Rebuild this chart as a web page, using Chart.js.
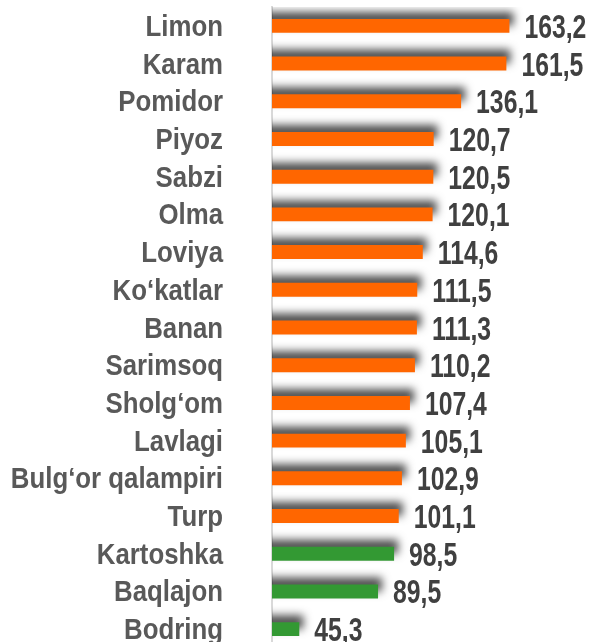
<!DOCTYPE html>
<html lang="uz">
<head>
<meta charset="UTF-8">
<title>Narxlar indeksi</title>
<script src="https://cdn.jsdelivr.net/npm/chart.js"></script>
<style>
    html, body { margin: 0; padding: 0; background: #fff; overflow: hidden; }
    canvas { display: block; }
</style>
</head>
<body>
<canvas id="chart" width="594" height="652"></canvas>
<script>
const categories = ['Limon', 'Karam', 'Pomidor', 'Piyoz', 'Sabzi', 'Olma', 'Loviya', 'Ko‘katlar', 'Banan',
    'Sarimsoq', 'Sholg‘om', 'Lavlagi', 'Bulg‘or qalampiri', 'Turp', 'Kartoshka', 'Baqlajon', 'Bodring'];
const values = [163.2, 161.5, 136.1, 120.7, 120.5, 120.1, 114.6, 111.5, 111.3,
    110.2, 107.4, 105.1, 102.9, 101.1, 98.5, 89.5, 45.3];
const axisMin = 30;
const axisMax = 200;

// 100 dan yuqori - to'q sariq, past - yashil
const barColors = values.map(v => v >= 100 ? '#ff6600' : '#339933');

const fmt = v => v.toFixed(1).replace('.', ',');

// ustunlar ostidagi soya
const barShadow = {
    id: 'barShadow',
    beforeDatasetDraw(chart) {
        const c = chart.ctx;
        c.save();
        c.shadowColor = 'rgba(0,0,0,0.7)';
        c.shadowBlur = 8;
        c.shadowOffsetX = 4;
        c.shadowOffsetY = -7;
    },
    afterDatasetDraw(chart) {
        chart.ctx.restore();
    }
};

// kategoriya nomlari (biroz siqilgan shrift)
const categoryLabels = {
    id: 'categoryLabels',
    afterDraw(chart) {
        const c = chart.ctx;
        const y = chart.scales.y;
        c.save();
        c.fillStyle = '#595959';
        c.font = 'bold 30px "Liberation Sans", Arial, sans-serif';
        c.textAlign = 'right';
        c.textBaseline = 'alphabetic';
        categories.forEach((name, i) => {
            c.save();
            c.translate(223, y.getPixelForTick(i) + 10);
            c.scale(0.86, 1);
            c.fillText(name, 0, 0);
            c.restore();
        });
        c.restore();
    }
};

// qiymat yorliqlari (tor shrift)
const valueLabels = {
    id: 'valueLabels',
    afterDatasetsDraw(chart) {
        const c = chart.ctx;
        const meta = chart.getDatasetMeta(0);
        c.save();
        c.fillStyle = '#404040';
        c.font = 'bold 33px "Liberation Sans", Arial, sans-serif';
        c.textBaseline = 'alphabetic';
        c.textAlign = 'left';
        meta.data.forEach((bar, i) => {
            c.save();
            c.translate(bar.x + 15, bar.y + 12);
            c.scale(0.75, 1);
            c.fillText(fmt(values[i]), 0, 0);
            c.restore();
        });
        c.restore();
    }
};

new Chart(document.getElementById('chart'), {
    type: 'bar',
    data: {
        labels: categories,
        datasets: [{
            data: values,
            backgroundColor: barColors,
            borderWidth: 0,
            barPercentage: 0.74,
            categoryPercentage: 0.5
        }]
    },
    options: {
        indexAxis: 'y',
        responsive: false,
        animation: false,
        layout: { padding: { top: 7, right: 19, bottom: 4, left: 0 } },
        plugins: { legend: { display: false }, tooltip: { enabled: false } },
        scales: {
            x: {
                display: false,
                min: axisMin,
                max: axisMax
            },
            y: {
                grid: { display: false, drawTicks: false },
                border: { display: true, color: '#d9d9d9', width: 2 },
                ticks: { display: false },
                afterFit(scale) {
                    scale.width = 272;
                    scale.paddingTop = 0;
                    scale.paddingBottom = 0;
                }
            }
        }
    },
    plugins: [barShadow, categoryLabels, valueLabels]
});
</script>
</body>
</html>
